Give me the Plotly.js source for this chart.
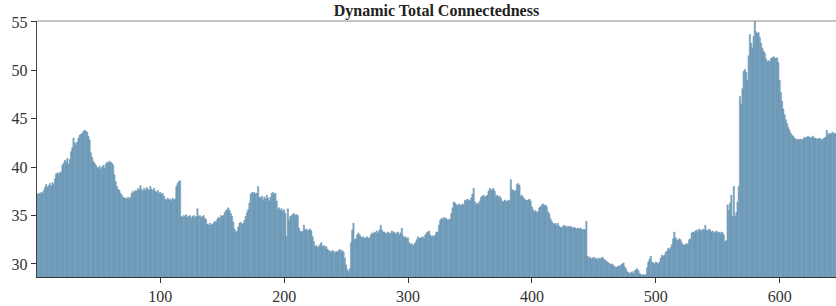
<!DOCTYPE html>
<html>
<head>
<meta charset="utf-8">
<script src="https://cdn.plot.ly/plotly-3.0.1.min.js"></script>
<style>html,body{margin:0;padding:0;background:#fff;}#chart{width:836px;height:306px;}</style>
</head>
<body>
<div id="chart"></div>
<script>
const chartTitle = "Dynamic Total Connectedness";
const xTickVals = [100, 200, 300, 400, 500, 600];
const yTickVals = [30, 35, 40, 45, 50, 55];
const totalConnectedness = [
37.2,37.3,37.2,37.4,37.3,37.6,37.9,38.2,37.9,38.1,
38.3,38.0,38.4,38.2,38.8,39.3,39.4,39.3,39.5,39.4,
40.2,40.4,40.7,40.5,40.9,40.3,40.8,41.6,42.0,43.0,
42.5,42.3,42.6,43.0,43.3,43.4,43.5,43.7,43.8,43.7,
43.6,43.2,42.8,41.5,41.0,40.6,40.4,40.2,40.0,39.9,
40.1,39.8,40.0,40.2,39.9,40.3,40.5,40.4,40.6,40.5,
40.4,40.2,39.2,38.5,38.0,37.7,37.6,37.3,37.1,36.9,
36.8,36.8,36.7,36.9,36.7,36.9,37.3,37.5,37.4,37.6,
37.5,37.8,37.6,38.1,37.7,37.5,37.8,37.6,37.9,37.7,
37.6,38.0,37.7,37.6,37.8,37.5,37.4,37.6,37.3,37.4,
37.2,37.3,37.0,36.7,36.6,36.8,36.6,36.7,36.5,36.8,
36.6,36.7,38.0,38.3,38.5,38.6,34.9,34.8,35.0,34.9,
35.1,34.8,34.9,35.0,34.7,34.9,35.0,34.8,34.9,35.7,
34.9,35.0,34.8,34.9,35.0,34.7,34.6,34.1,34.0,34.2,
34.0,34.1,34.2,34.4,34.3,34.6,34.8,34.7,35.0,34.9,
35.0,35.3,35.5,35.6,35.8,35.5,35.2,34.9,34.3,33.6,
33.3,33.4,33.8,34.2,34.3,34.1,34.2,34.5,34.9,35.3,
35.6,36.3,37.2,37.4,37.3,37.4,37.2,37.3,38.0,36.9,
36.8,37.0,36.6,36.9,36.7,37.1,36.8,36.5,36.9,37.3,
37.4,37.2,37.3,36.5,35.6,35.8,35.5,35.7,35.4,35.6,
35.2,32.8,35.7,34.5,34.9,35.0,35.1,35.2,35.0,35.1,
35.0,33.7,33.4,33.3,33.4,34.0,33.5,33.6,33.4,33.5,
33.6,33.4,32.8,32.3,31.8,31.9,31.7,31.8,32.0,32.2,
31.8,31.9,31.7,31.8,31.5,31.4,31.3,31.2,31.4,31.3,
31.1,31.3,31.2,31.4,31.5,31.3,31.4,31.2,30.6,29.9,
29.4,29.2,29.5,32.2,33.5,34.2,32.5,32.6,33.0,33.2,
33.0,32.8,32.7,32.8,32.6,32.7,32.8,32.6,32.7,33.0,
33.2,33.1,33.3,33.2,33.4,33.2,33.5,34.0,33.5,33.3,
33.3,33.1,33.2,33.3,33.1,33.2,33.4,33.2,33.3,33.1,
33.2,33.3,33.0,33.2,33.7,32.9,32.7,32.8,32.6,32.7,
32.2,32.0,32.1,31.9,32.0,32.2,32.5,32.8,32.6,32.7,
32.7,32.8,32.6,33.0,33.2,33.3,33.4,33.0,32.8,32.9,
32.8,33.0,33.3,33.3,34.0,34.5,34.7,34.6,34.8,34.7,
34.7,34.5,34.6,34.6,35.2,35.8,36.4,36.3,36.1,36.0,
36.2,36.1,36.0,36.2,36.1,36.6,36.5,36.7,36.6,36.5,
36.8,37.2,37.8,36.4,36.1,36.3,36.2,36.5,36.9,37.0,
37.1,36.9,37.0,37.1,37.5,37.8,37.6,37.7,37.8,37.5,
37.0,37.1,36.9,37.0,36.8,36.5,36.4,36.6,36.5,36.4,
36.6,36.5,38.7,37.7,37.6,37.5,37.6,38.2,38.3,38.1,
37.0,37.1,36.9,36.7,36.6,36.5,36.6,36.7,36.5,35.9,
35.6,35.4,35.5,35.3,35.4,35.8,35.9,36.1,36.2,36.0,
36.1,35.9,35.4,35.2,34.7,34.4,34.2,34.1,34.2,34.0,
34.2,33.9,33.8,33.7,33.9,34.0,33.9,33.8,33.9,33.8,
33.9,33.8,33.7,33.8,33.7,33.6,33.7,33.6,33.7,33.6,
33.5,33.6,33.5,34.4,30.8,30.6,30.7,30.5,30.6,30.7,
30.5,30.6,30.4,30.6,30.5,30.6,30.7,30.5,30.4,30.3,
30.2,30.1,30.0,29.9,30.0,29.8,29.7,29.6,29.7,29.8,
29.7,29.9,30.0,30.1,29.7,29.5,29.2,29.1,29.0,29.1,
29.2,29.0,29.3,29.4,29.5,29.3,29.0,28.9,28.8,28.9,
28.8,28.9,29.6,30.2,30.5,30.8,30.2,30.1,30.0,30.2,
30.1,30.0,30.2,30.6,30.9,30.8,30.9,31.2,31.3,31.6,
31.5,31.7,32.0,32.6,33.3,32.7,32.5,32.4,32.6,32.5,
32.2,32.0,31.9,32.0,32.1,32.0,32.5,32.6,33.2,33.3,
33.2,33.4,33.5,33.3,33.6,33.5,33.4,33.6,33.5,34.0,
33.5,33.4,33.6,33.5,33.3,33.4,33.2,33.3,33.4,33.2,
33.3,33.1,33.3,33.2,33.0,32.3,32.4,36.1,35.5,36.3,
37.1,34.9,38.0,34.9,35.3,36.4,38.0,47.3,46.5,48.1,
49.9,50.1,49.8,49.0,51.5,53.7,52.8,52.3,53.5,55.6,
54.0,53.8,53.9,53.4,52.8,52.3,52.0,51.8,51.2,50.9,
51.0,50.9,51.2,51.3,51.4,51.3,51.2,51.3,50.8,49.0,
47.7,46.8,46.0,45.4,44.9,44.5,44.1,43.8,43.5,43.3,
43.2,43.0,42.9,42.8,42.9,42.8,42.9,42.8,42.9,43.1,
43.0,43.1,43.2,43.1,43.0,43.1,43.2,43.0,43.0,42.9,
42.9,43.0,42.9,42.8,42.9,43.0,43.1,43.8,43.3,43.5,
43.4,43.5,43.6,43.4,43.5
];

const serif = '"Liberation Serif", "Times New Roman", serif';

const trace = {
  type: 'bar',
  y: totalConnectedness,
  x0: 1,
  dx: 1,
  marker: { color: '#86b4d1', line: { color: '#4f7b9a', width: 0.45 } },
  width: 1,
  hoverinfo: 'none'
};

const layout = {
  width: 836,
  height: 306,
  margin: { l: 37, r: 0, t: 21, b: 29, pad: 0 },
  paper_bgcolor: '#ffffff',
  plot_bgcolor: '#ffffff',
  showlegend: false,
  bargap: 0,
  title: {
    text: '<b>' + chartTitle + '</b>',
    font: { family: serif, size: 16, color: '#222' },
    x: 0.5, xref: 'paper', xanchor: 'center',
    y: 0.966, yref: 'container', yanchor: 'middle',
    automargin: false
  },
  xaxis: {
    range: [0.5, 645.5],
    tickvals: xTickVals,
    ticktext: xTickVals.map(String),
    ticks: 'outside', ticklen: 5, tickcolor: '#333', tickwidth: 1,
    showline: true, linecolor: '#333', linewidth: 1.2,
    showgrid: false, zeroline: false,
    tickfont: { family: serif, size: 16, color: '#333' }
  },
  yaxis: {
    range: [28.65, 55.1],
    tickvals: yTickVals,
    ticktext: yTickVals.map(String),
    ticks: 'outside', ticklen: 5, tickcolor: '#333', tickwidth: 1,
    showline: true, linecolor: '#444', linewidth: 1.2,
    showgrid: false, zeroline: false,
    tickfont: { family: serif, size: 16, color: '#333' }
  },
  shapes: [{
    type: 'line', xref: 'paper', yref: 'paper',
    x0: 0, x1: 1, y0: 1, y1: 1,
    line: { color: '#8a8a8a', width: 1.2 }
  }]
};

Plotly.newPlot('chart', [trace], layout, { staticPlot: true, displayModeBar: false });
</script>
</body>
</html>
